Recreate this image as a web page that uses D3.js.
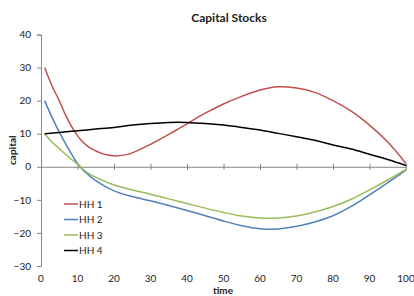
<!DOCTYPE html>
<html>
<head>
<meta charset="utf-8">
<script src="https://cdn.jsdelivr.net/npm/d3@7"></script>
<style>
  body { margin: 0; background: #fff; }
  svg text { font-family: Lato, "Open Sans", sans-serif; fill: #222; }
</style>
</head>
<body>
<svg id="chart"></svg>
<script>
// data
var seriesNames = ["HH 1", "HH 2", "HH 3", "HH 4"];
var seriesColors = ["#C0504D", "#4F81BD", "#9BBB59", "#000000"];

var hh1 = [[1,30],[3,24.5],[5,20],[7,15],[9,11],[11,8],[13,6],[15,4.8],[17,3.9],[20,3.3],[23,3.6],[25,4.2],[30,6.8],[35,9.8],[40,13],[45,16.2],[50,19],[55,21.3],[60,23.2],[65,24.2],[70,23.8],[75,22.5],[80,20],[85,16.8],[90,12.6],[95,7.5],[100,1]];
var hh2 = [[1,20],[3,15],[5,10.5],[7,6.5],[10,1],[12,-1.5],[15,-4.2],[20,-7.3],[25,-9],[30,-10.3],[35,-11.7],[40,-13.2],[45,-14.8],[50,-16.4],[55,-17.8],[60,-18.7],[65,-18.8],[70,-18],[75,-16.7],[80,-14.8],[85,-12],[90,-8.5],[95,-4.8],[100,-1]];
var hh3 = [[1,10],[3,7.5],[5,5.5],[7,3.5],[10,0.8],[13,-2],[15,-3.2],[20,-5.5],[25,-7],[30,-8.3],[35,-9.7],[40,-11.1],[45,-12.5],[50,-13.8],[55,-14.9],[60,-15.5],[65,-15.5],[70,-14.9],[75,-13.7],[80,-12],[85,-9.8],[90,-7],[95,-4],[100,-0.8]];
var hh4 = [[1,10],[5,10.4],[10,10.9],[15,11.4],[20,11.9],[25,12.6],[30,13.1],[35,13.4],[40,13.4],[45,13.1],[50,12.6],[55,11.9],[60,11.1],[65,10.1],[70,9.1],[75,8],[80,6.6],[85,5.4],[90,3.8],[95,2.2],[100,0.4]];

var xTicks = [0,10,20,30,40,50,60,70,80,90,100];
var yTicks = [-30,-20,-10,0,10,20,30,40];

var width = 414, height = 296;
var margin = {top: 34.5, right: 8, bottom: 30, left: 41};

var svg = d3.select("#chart").attr("width", width).attr("height", height);

var x = d3.scaleLinear().domain([0, 100]).range([margin.left, 406]);
var y = d3.scaleLinear().domain([-30, 40]).range([266, 34.5]);

// title
svg.append("text")
  .attr("x", 229).attr("y", 22)
  .attr("text-anchor", "middle")
  .style("font-size", "12px").style("font-weight", "bold")
  .text("Capital Stocks");

// y axis
var yAxis = d3.axisLeft(y).tickValues(yTicks).tickSize(4).tickPadding(6);
var gy = svg.append("g").attr("transform", "translate(" + x(0) + ",0)").call(yAxis);
gy.select(".domain").attr("stroke", "#868686");
gy.selectAll(".tick line").attr("stroke", "#868686");
gy.selectAll("text").style("font-size", "10px").attr("fill", "#333");

// x axis line at zero, labels at the bottom
var xAxis = d3.axisBottom(x).tickValues(xTicks).tickSize(3).tickFormat("");
var gx = svg.append("g").attr("transform", "translate(0," + y(0) + ")").call(xAxis);
gx.select(".domain").attr("stroke", "#868686");
gx.selectAll(".tick line").attr("stroke", "#868686").attr("y1", -3).attr("y2", 3);

svg.append("g").selectAll("text")
  .data(xTicks).enter().append("text")
  .attr("x", function(d) { return x(d); })
  .attr("y", 282)
  .attr("text-anchor", "middle")
  .style("font-size", "10px").attr("fill", "#333")
  .text(function(d) { return d; });

// axis titles
svg.append("text")
  .attr("x", 223).attr("y", 294)
  .attr("text-anchor", "middle")
  .style("font-size", "10px").style("font-weight", "bold")
  .text("time");

svg.append("text")
  .attr("transform", "translate(16," + y(5) + ") rotate(-90)")
  .attr("text-anchor", "middle")
  .style("font-size", "10px").style("font-weight", "bold")
  .text("capital");

// lines
var line = d3.line()
  .x(function(d) { return x(d[0]); })
  .y(function(d) { return y(d[1]); })
  .curve(d3.curveCatmullRom);

var allSeries = [hh1, hh2, hh3, hh4];
svg.append("g").selectAll("path")
  .data(allSeries).enter().append("path")
  .attr("d", line)
  .attr("fill", "none")
  .attr("stroke", function(d, i) { return seriesColors[i]; })
  .attr("stroke-width", 1.5);

// legend
var legend = svg.append("g").selectAll("g")
  .data(seriesNames).enter().append("g")
  .attr("transform", function(d, i) { return "translate(64," + (204 + i * 15.5) + ")"; });

legend.append("line")
  .attr("x1", 0).attr("x2", 14)
  .attr("stroke", function(d, i) { return seriesColors[i]; })
  .attr("stroke-width", 1.5);

legend.append("text")
  .attr("x", 15).attr("y", 3.5)
  .style("font-size", "10px").attr("fill", "#333")
  .text(function(d) { return d; });
</script>
</body>
</html>
